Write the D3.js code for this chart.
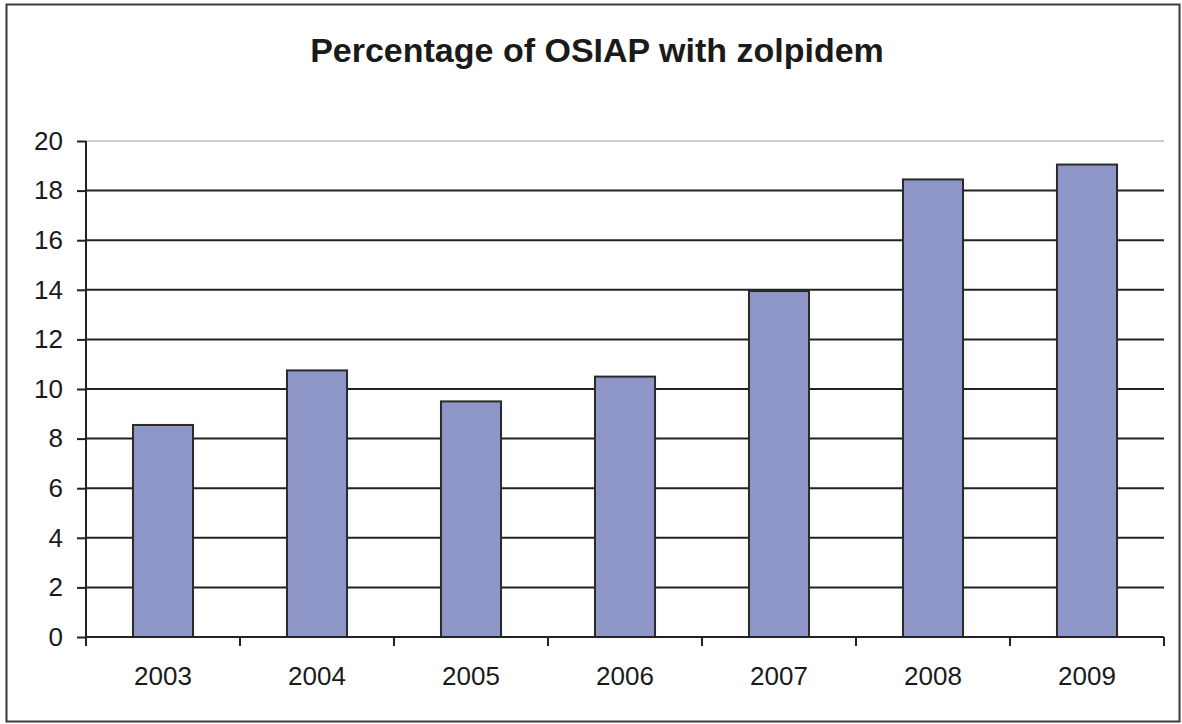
<!DOCTYPE html>
<html>
<head>
<meta charset="utf-8">
<script src="https://cdn.jsdelivr.net/npm/d3@7"></script>
<style>
  html, body { margin: 0; padding: 0; background: #fff; }
  svg { display: block; }
  text { font-family: "Liberation Sans", Arial, sans-serif; fill: #1a1a1a; }
</style>
</head>
<body>
<svg id="chart" width="1182" height="724"></svg>
<script>
const titleText = "Percentage of OSIAP with zolpidem";
const years = ["2003", "2004", "2005", "2006", "2007", "2008", "2009"];
const percentages = [8.55, 10.75, 9.5, 10.5, 13.95, 18.45, 19.05];
const yTicks = [0, 2, 4, 6, 8, 10, 12, 14, 16, 18, 20];

const svg = d3.select("#chart");
const W = 1182, H = 724;
const plot = { left: 86, right: 1164, top: 141, bottom: 637 };

svg.append("rect").attr("width", W).attr("height", H).attr("fill", "#fff");

// outer frame
svg.append("rect")
  .attr("x", 6.5).attr("y", 4.5).attr("width", 1173).attr("height", 717)
  .attr("fill", "none").attr("stroke", "#3a3a3a").attr("stroke-width", 2);

// title
svg.append("text")
  .attr("x", 597).attr("y", 62)
  .attr("text-anchor", "middle")
  .attr("font-size", 34).attr("font-weight", "bold")
  .text(titleText);

const x = d3.scaleBand().domain(years)
  .range([plot.left, plot.right])
  .paddingInner(0.61).paddingOuter(0.305);
const y = d3.scaleLinear().domain([0, 20]).range([plot.bottom, plot.top]);

// gridlines
svg.append("g").selectAll("line").data(yTicks.filter(d => d > 0)).join("line")
  .attr("x1", plot.left).attr("x2", plot.right)
  .attr("y1", d => y(d)).attr("y2", d => y(d))
  .attr("stroke", d => d === 20 ? "#bdbdbd" : "#222")
  .attr("stroke-width", d => d === 20 ? 1.5 : 2);

// bars
svg.append("g").selectAll("rect").data(years).join("rect")
  .attr("x", d => x(d))
  .attr("y", (d, i) => y(percentages[i]))
  .attr("width", x.bandwidth())
  .attr("height", (d, i) => y(0) - y(percentages[i]))
  .attr("fill", "#8e96c8")
  .attr("stroke", "#2a2a2a").attr("stroke-width", 2);

// y axis
const yAxis = d3.axisLeft(y).tickValues(yTicks).tickSize(9).tickPadding(14).tickFormat(d3.format("d"));
const gy = svg.append("g").attr("transform", `translate(${plot.left},0)`).call(yAxis);
gy.select(".domain").attr("stroke", "#222").attr("stroke-width", 2)
  .attr("d", `M0,${plot.bottom}V${plot.top}`);
gy.selectAll(".tick line").attr("stroke", "#222").attr("stroke-width", 2);
gy.selectAll(".tick text").attr("font-size", 26).attr("fill", "#1a1a1a")
  .attr("font-family", "'Liberation Sans', Arial, sans-serif");

// x axis
const xAxis = d3.axisBottom(x).tickSize(0).tickPadding(30);
const gx = svg.append("g").attr("transform", `translate(0,${plot.bottom})`).call(xAxis);
gx.select(".domain").attr("stroke", "#222").attr("stroke-width", 2)
  .attr("d", `M${plot.left},0H${plot.right}`);
gx.selectAll(".tick text").attr("font-size", 26).attr("fill", "#1a1a1a")
  .attr("font-family", "'Liberation Sans', Arial, sans-serif");

// category boundary ticks
const boundaries = years.map(d => x(d) - x.step() * x.paddingInner() / 2);
boundaries.push(plot.right);
boundaries[0] = plot.left;
gx.append("g").selectAll("line").data(boundaries).join("line")
  .attr("x1", d => d).attr("x2", d => d)
  .attr("y1", 0).attr("y2", 9)
  .attr("stroke", "#222").attr("stroke-width", 2);
</script>
</body>
</html>
